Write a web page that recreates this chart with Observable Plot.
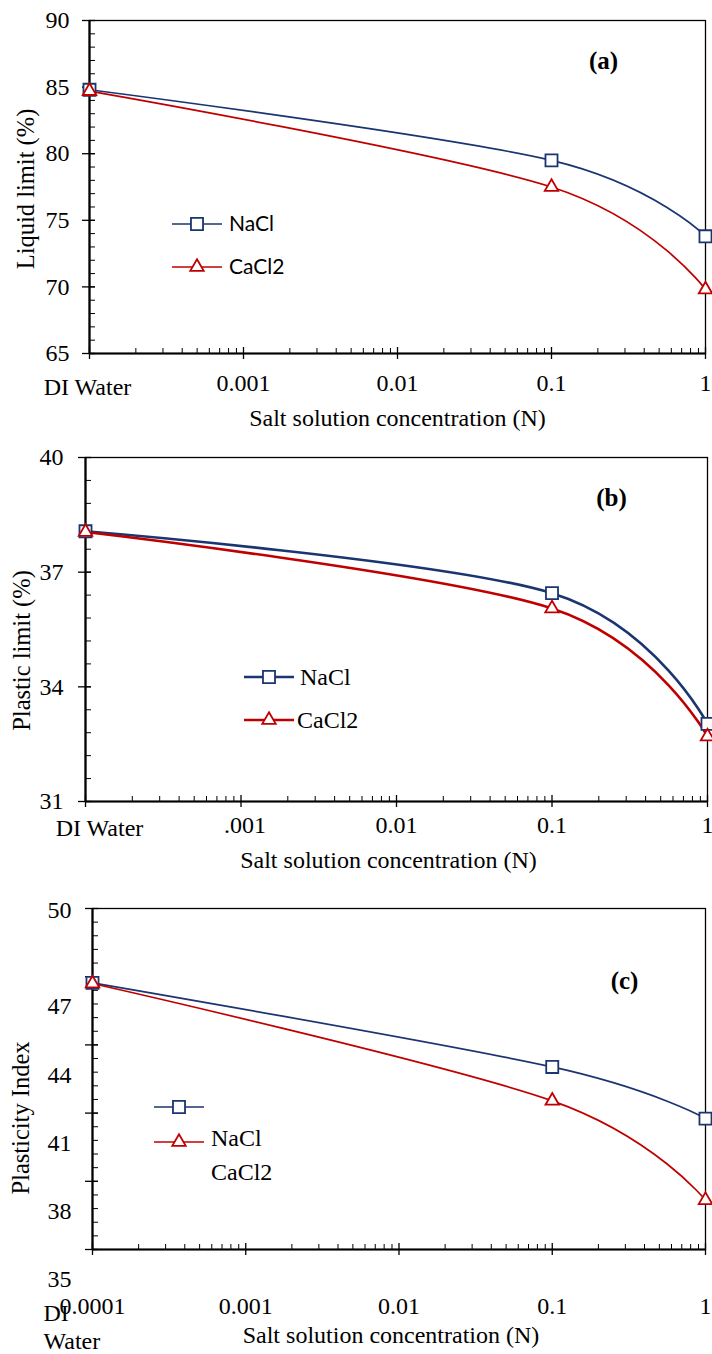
<!DOCTYPE html>
<html><head><meta charset="utf-8">
<script src="https://cdn.jsdelivr.net/npm/d3@7"></script>
<script src="https://cdn.jsdelivr.net/npm/@observablehq/plot@0.6"></script>
<style>
body{margin:0;background:#fff;}
#root{width:712px;}
#root svg{display:block;}
</style></head><body><div id="root"></div>
<script>
// ---- data ----
const concentration = [0.0001, 0.1, 1];          // DI water plotted at 0.0001 N
const seriesNames = ["NaCl", "CaCl2"];
const liquidNaCl = [84.8, 79.5, 73.8];
const liquidCaCl2 = [84.7, 77.5, 69.8];
const plasticNaCl = [38.07, 36.45, 33.03];
const plasticCaCl2 = [38.05, 36.05, 32.7];
const plasticityNaCl = [46.73, 43.03, 40.76];
const plasticityCaCl2 = [46.7, 41.54, 37.17];

const xTickValues = [0.0001, 0.001, 0.01, 0.1, 1];
const xTickLabelsA = ["DI Water", "0.001", "0.01", "0.1", "1"];
const xTickLabelsB = ["DI Water", ".001", "0.01", "0.1", "1"];
const xTickLabelsC = ["0.0001", "0.001", "0.01", "0.1", "1"];
const yTicksA = [65, 70, 75, 80, 85, 90];
const yTicksB = [31, 34, 37, 40];
const yTicksC = [35, 38, 41, 44, 47, 50];
const xTitle = "Salt solution concentration (N)";

const NAVY = "#1b3571", RED = "#c00000";
const SERIF = "'Liberation Serif','Times New Roman',serif";
const SANS = "Lato, 'Open Sans', sans-serif";
const TICK = 24, TITLE = 24;

function minorLog(domain) {
  const out = [];
  for (let e = Math.log10(domain[0]); e < Math.log10(domain[1]); e++)
    for (let k = 2; k <= 9; k++) out.push(k * Math.pow(10, e));
  return out;
}
function minorLinear(lo, hi, step) {
  const out = [];
  const n = Math.round((hi - lo) / step);
  for (let i = 0; i <= n; i++) out.push(+(lo + i * step).toFixed(4));
  return out;
}
const tx = (o) => ({fontSize: TICK, fontFamily: SERIF, fill: "black", lineAnchor: "middle", ...o});

function panel(cfg) {
  const W = 712;
  const innerW = W - cfg.ml - cfg.mr;
  const innerH = cfg.height - cfg.mt - cfg.mb;
  const xDomain = [xTickValues[0], xTickValues[xTickValues.length - 1]];
  const rows = [];
  cfg.values.forEach((vals, s) => vals.forEach((v, i) => rows.push({series: seriesNames[s], x: concentration[i], y: v})));
  const nacl = rows.filter(d => d.series === "NaCl");
  const cacl = rows.filter(d => d.series === "CaCl2");
  const marks = [
    Plot.tickY(cfg.minorY, {y: d => d, insetRight: innerW - 6, stroke: "black", strokeWidth: 1}),
    Plot.tickY(cfg.yTicks, {y: d => d, insetLeft: -7, insetRight: innerW - 6, stroke: "black", strokeWidth: 1.3}),
    Plot.tickX(minorLog(xDomain), {x: d => d, insetTop: innerH - 5, stroke: "black", strokeWidth: 1}),
    Plot.tickX(xTickValues, {x: d => d, insetTop: innerH - 6, insetBottom: -6, stroke: "black", strokeWidth: 1.3}),
    Plot.frame({stroke: "black", strokeWidth: 1.3}),
    Plot.ruleX([xDomain[0]], {stroke: "black", strokeWidth: 2.2}),
    Plot.ruleY([cfg.yDomain[0]], {stroke: "black", strokeWidth: 2.2}),
    Plot.line(nacl, {x: "x", y: "y", stroke: NAVY, strokeWidth: cfg.lw, curve: "cardinal", tension: 0}),
    Plot.line(cacl, {x: "x", y: "y", stroke: RED, strokeWidth: cfg.lw, curve: "cardinal", tension: 0}),
    Plot.dot(nacl, {x: "x", y: "y", symbol: "square", r: 6.8, stroke: NAVY, strokeWidth: 1.8, fill: "white"}),
    Plot.dot(cacl, {x: "x", y: "y", symbol: "triangle", r: 5, stroke: RED, strokeWidth: 1.8, fill: "white"}),
    ...cfg.xLabelMarks,
    ...cfg.yLabelMarks,
    Plot.text([xTitle], {frameAnchor: "bottom", dx: cfg.xTitleDx, dy: cfg.xTitleDy, lineAnchor: "middle", fontSize: TITLE, fontFamily: SERIF, fill: "black"}),
    Plot.text([cfg.yTitle], {frameAnchor: "left", dx: cfg.yTitleDx, dy: cfg.yTitleDy, rotate: -90, textAnchor: "middle", lineAnchor: "middle", fontSize: 24.5, fontFamily: SERIF, fill: "black"}),
    Plot.text([cfg.tag], {frameAnchor: "top-right", dx: cfg.tagDx, dy: cfg.tagDy, textAnchor: "middle", lineAnchor: "middle", fontSize: 25, fontWeight: "bold", fontFamily: SERIF, fill: "black"})
  ];
  const svg = Plot.plot({
    width: W, height: cfg.height,
    marginLeft: cfg.ml, marginRight: cfg.mr, marginTop: cfg.mt, marginBottom: cfg.mb,
    x: {type: "log", domain: xDomain, axis: null},
    y: {domain: cfg.yDomain, axis: null},
    style: {background: "white", overflow: "visible", fontFamily: SERIF},
    marks
  });
  // legend
  const g = d3.select(svg).append("g").attr("text-anchor", "start");
  cfg.legend.forEach((it, i) => {
    const color = i === 0 ? NAVY : RED;
    g.append("line").attr("x1", it.x1).attr("x2", it.x2).attr("y1", it.y).attr("y2", it.y)
      .attr("stroke", color).attr("stroke-width", cfg.lw);
    const sym = i === 0 ? d3.symbol(d3.symbolSquare, Math.PI * 6.8 * 6.8) : d3.symbol(d3.symbolTriangle, Math.PI * 5 * 5);
    g.append("path").attr("d", sym()).attr("transform", `translate(${(it.x1 + it.x2) / 2},${it.y})`)
      .attr("fill", "white").attr("stroke", color).attr("stroke-width", 1.8);
    g.append("text").attr("x", it.tx).attr("y", it.ty).attr("dy", "0.35em").attr("text-anchor", "start")
      .attr("font-family", cfg.legendFont).attr("font-size", cfg.legendSize).attr("fill", "black")
      .text(seriesNames[i]);
  });
  return svg;
}

const root = document.getElementById("root");

// (a) Liquid limit
root.appendChild(panel({
  height: 440, ml: 89, mr: 7, mt: 20, mb: 87,
  yDomain: [65, 90], yTicks: yTicksA, minorY: minorLinear(65, 90, 1),
  values: [liquidNaCl, liquidCaCl2], lw: 1.7,
  xLabelMarks: [
    Plot.text(xTickValues.slice(0, 1), tx({x: d => d, text: () => xTickLabelsA[0], frameAnchor: "bottom", dx: -2, dy: 34})),
    Plot.text(xTickValues.slice(1), tx({x: d => d, text: (d, i) => xTickLabelsA[i + 1], frameAnchor: "bottom", dy: 30}))
  ],
  yLabelMarks: [Plot.text(yTicksA, tx({y: d => d, text: d => String(d), frameAnchor: "left", dx: -20, textAnchor: "end"}))],
  xTitleDx: 0, xTitleDy: 65, yTitle: "Liquid limit (%)", yTitleDx: -63, yTitleDy: 2,
  tag: "(a)", tagDx: -102, tagDy: 40,
  legendFont: SANS, legendSize: 21,
  legend: [{x1: 172, x2: 222, y: 224, tx: 229, ty: 224}, {x1: 172, x2: 222, y: 267, tx: 229, ty: 267}]
}));

// (b) Plastic limit
root.appendChild(panel({
  height: 430, ml: 85, mr: 5, mt: 17, mb: 69,
  yDomain: [31, 40], yTicks: yTicksB, minorY: minorLinear(31, 40, 0.6),
  values: [plasticNaCl, plasticCaCl2], lw: 2.6,
  xLabelMarks: [
    Plot.text(xTickValues.slice(0, 1), tx({x: d => d, text: () => xTickLabelsB[0], frameAnchor: "bottom", dx: 14, dy: 27})),
    Plot.text(xTickValues.slice(1, 2), tx({x: d => d, text: () => xTickLabelsB[1], frameAnchor: "bottom", dx: 4, dy: 24})),
    Plot.text(xTickValues.slice(2), tx({x: d => d, text: (d, i) => xTickLabelsB[i + 2], frameAnchor: "bottom", dy: 24}))
  ],
  yLabelMarks: [Plot.text(yTicksB, tx({y: d => d, text: d => String(d), frameAnchor: "left", dx: -22, textAnchor: "end"}))],
  xTitleDx: -8, xTitleDy: 59, yTitle: "Plastic limit (%)", yTitleDx: -63, yTitleDy: 21,
  tag: "(b)", tagDx: -96, tagDy: 40,
  legendFont: SERIF, legendSize: 24,
  legend: [{x1: 244, x2: 294, y: 237, tx: 300, ty: 237}, {x1: 244, x2: 294, y: 280, tx: 297, ty: 280}]
}));

// (c) Plasticity index
root.appendChild(panel({
  height: 484, ml: 92, mr: 7, mt: 38, mb: 105,
  yDomain: [35, 50], yTicks: yTicksC, minorY: minorLinear(35, 50, 0.6),
  values: [plasticityNaCl, plasticityCaCl2], lw: 1.7,
  xLabelMarks: [
    Plot.text(xTickValues, tx({x: d => d, text: (d, i) => xTickLabelsC[i], frameAnchor: "bottom", dy: 57})),
    Plot.text(xTickValues.slice(0, 1), tx({x: d => d, text: () => "DI", frameAnchor: "bottom", dx: -49, dy: 64, textAnchor: "start"})),
    Plot.text(xTickValues.slice(0, 1), tx({x: d => d, text: () => "Water", frameAnchor: "bottom", dx: -49, dy: 92, textAnchor: "start"}))
  ],
  yLabelMarks: [
    Plot.text(yTicksC.slice(-1), tx({y: d => d, text: d => String(d), frameAnchor: "left", dx: -21, dy: 2, textAnchor: "end"})),
    Plot.text(yTicksC.slice(0, -1), tx({y: d => d, text: d => String(d), frameAnchor: "left", dx: -21, dy: 30, textAnchor: "end"}))
  ],
  xTitleDx: -8, xTitleDy: 86, yTitle: "Plasticity Index", yTitleDx: -71, yTitleDy: 39,
  tag: "(c)", tagDx: -81, tagDy: 72,
  legendFont: SERIF, legendSize: 24,
  legend: [{x1: 154, x2: 204, y: 237, tx: 211, ty: 268}, {x1: 154, x2: 204, y: 272, tx: 211, ty: 302}]
}));
</script></body></html>
